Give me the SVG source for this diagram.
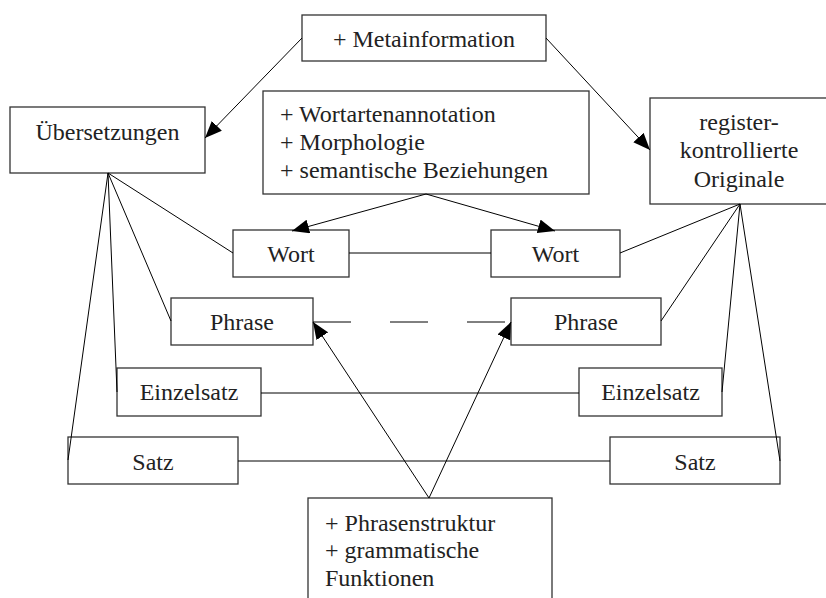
<svg xmlns="http://www.w3.org/2000/svg" width="826" height="598" viewBox="0 0 826 598">
  <style>
    .box { fill: #ffffff; stroke: #333333; stroke-width: 1.3; }
    .lbl { font-family: "Liberation Serif", "Times New Roman", serif; font-size: 24px; fill: #222222; }
    .mid { text-anchor: middle; }
    .link { stroke: #000000; stroke-width: 1; fill: none; }
  </style>
  <defs>
    <marker id="arrow" markerUnits="userSpaceOnUse" markerWidth="18" markerHeight="14" refX="17" refY="7" orient="auto">
      <path d="M0,0 L17,7 L0,14 Z" fill="#000000"/>
    </marker>
  </defs>

  <rect width="826" height="598" fill="#ffffff"/>

  <!-- nodes -->
  <g id="metainformation">
    <rect class="box" x="302" y="15" width="244" height="46"/>
    <text class="lbl mid" x="424" y="47">+ Metainformation</text>
  </g>
  <g id="wortebene">
    <rect class="box" x="263" y="91" width="326" height="103"/>
    <text class="lbl" x="280" y="122">+ Wortartenannotation</text>
    <text class="lbl" x="280" y="150">+ Morphologie</text>
    <text class="lbl" x="280" y="178">+ semantische Beziehungen</text>
  </g>
  <g id="uebersetzungen">
    <rect class="box" x="10" y="107" width="195" height="66"/>
    <text class="lbl mid" x="107.5" y="140">Übersetzungen</text>
  </g>
  <g id="originale">
    <rect class="box" x="650" y="98" width="182" height="106"/>
    <text class="lbl mid" x="739" y="130">register-</text>
    <text class="lbl mid" x="739" y="158">kontrollierte</text>
    <text class="lbl mid" x="739" y="187">Originale</text>
  </g>
  <g id="wort-links">
    <rect class="box" x="233" y="230" width="116" height="47"/>
    <text class="lbl mid" x="291" y="262">Wort</text>
  </g>
  <g id="wort-rechts">
    <rect class="box" x="491" y="230" width="129" height="47"/>
    <text class="lbl mid" x="555.5" y="262">Wort</text>
  </g>
  <g id="phrase-links">
    <rect class="box" x="171" y="298" width="142" height="47"/>
    <text class="lbl mid" x="242" y="330">Phrase</text>
  </g>
  <g id="phrase-rechts">
    <rect class="box" x="511" y="298" width="150" height="47"/>
    <text class="lbl mid" x="586" y="330">Phrase</text>
  </g>
  <g id="einzelsatz-links">
    <rect class="box" x="117" y="368" width="144" height="48"/>
    <text class="lbl mid" x="189" y="400">Einzelsatz</text>
  </g>
  <g id="einzelsatz-rechts">
    <rect class="box" x="579" y="368" width="143" height="48"/>
    <text class="lbl mid" x="650.5" y="400">Einzelsatz</text>
  </g>
  <g id="satz-links">
    <rect class="box" x="68" y="437" width="170" height="47"/>
    <text class="lbl mid" x="153" y="470">Satz</text>
  </g>
  <g id="satz-rechts">
    <rect class="box" x="610" y="437" width="170" height="47"/>
    <text class="lbl mid" x="695" y="470">Satz</text>
  </g>
  <g id="satzebene">
    <rect class="box" x="308" y="498" width="244" height="112"/>
    <text class="lbl" x="325" y="531">+ Phrasenstruktur</text>
    <text class="lbl" x="325" y="558">+ grammatische</text>
    <text class="lbl" x="325" y="586">Funktionen</text>
  </g>

  <!-- connectors -->
  <g id="connectors">
    <line class="link" x1="302" y1="38" x2="205" y2="138" marker-end="url(#arrow)"/>
    <line class="link" x1="546" y1="38" x2="650" y2="150" marker-end="url(#arrow)"/>
    <line class="link" x1="426" y1="194" x2="292" y2="231" marker-end="url(#arrow)"/>
    <line class="link" x1="426" y1="194" x2="555" y2="231" marker-end="url(#arrow)"/>
    <line class="link" x1="429" y1="498" x2="313" y2="322" marker-end="url(#arrow)"/>
    <line class="link" x1="429" y1="498" x2="511" y2="322" marker-end="url(#arrow)"/>

    <line class="link" x1="108" y1="173" x2="233" y2="253"/>
    <line class="link" x1="108" y1="173" x2="171" y2="321"/>
    <line class="link" x1="108" y1="173" x2="117" y2="392"/>
    <line class="link" x1="108" y1="173" x2="68" y2="460"/>

    <line class="link" x1="740" y1="204" x2="620" y2="253"/>
    <line class="link" x1="740" y1="204" x2="661" y2="321"/>
    <line class="link" x1="740" y1="204" x2="722" y2="392"/>
    <line class="link" x1="740" y1="204" x2="780" y2="461"/>

    <line class="link" x1="349" y1="253" x2="491" y2="253"/>
    <line class="link" x1="313" y1="322" x2="505" y2="322" stroke-dasharray="38 39"/>
    <line class="link" x1="261" y1="393" x2="579" y2="393"/>
    <line class="link" x1="238" y1="461" x2="610" y2="461"/>
  </g>
</svg>
